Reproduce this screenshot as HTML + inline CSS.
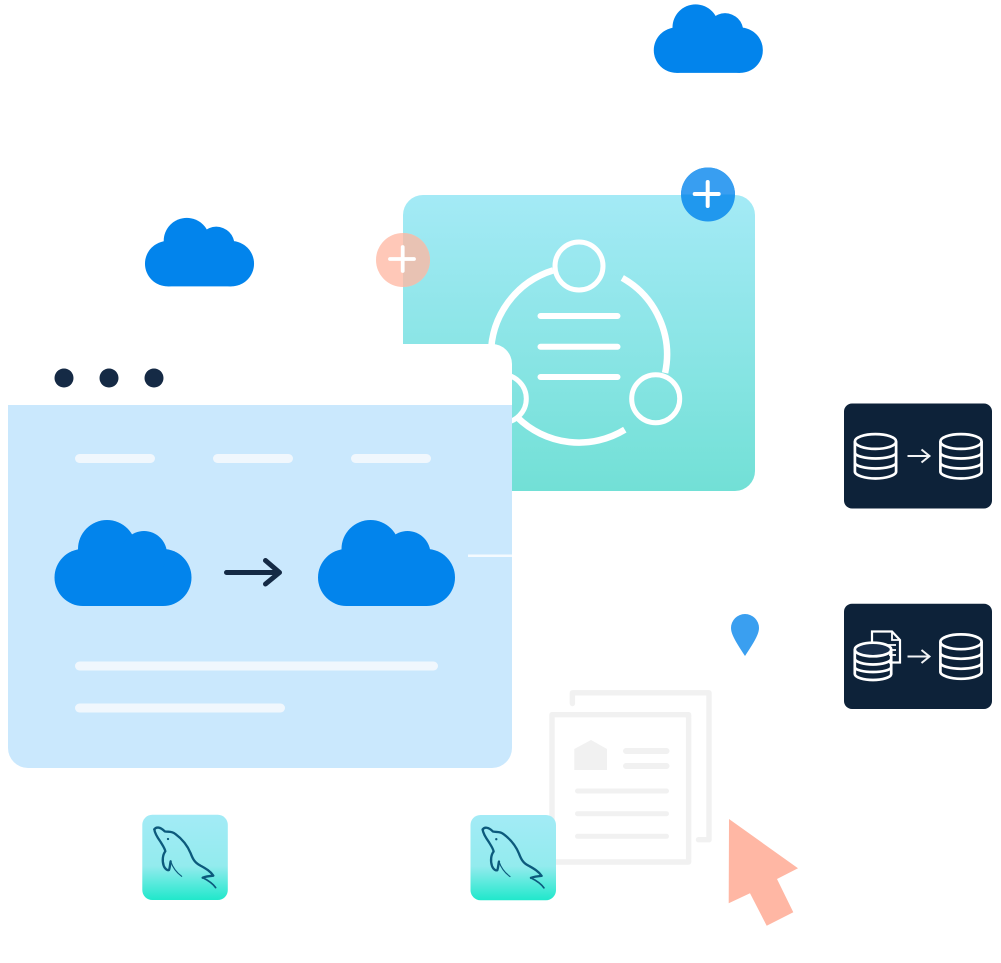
<!DOCTYPE html>
<html><head><meta charset="utf-8"><title>Diagram</title>
<style>html,body{margin:0;padding:0;background:#fff}svg{display:block}</style></head>
<body>
<svg width="1001" height="963" viewBox="0 0 1001 963" xmlns="http://www.w3.org/2000/svg">
<defs>
<linearGradient id="teal" x1="0" y1="0" x2="0" y2="1"><stop offset="0" stop-color="#a4eaf6"/><stop offset="1" stop-color="#72e0d6"/></linearGradient>
<linearGradient id="tile" x1="0" y1="0" x2="0" y2="1"><stop offset="0" stop-color="#a3ebf6"/><stop offset=".6" stop-color="#93ebee"/><stop offset="1" stop-color="#20e8cb"/></linearGradient>
<g id="cloud"><circle cx="83" cy="577.5" r="28.5"/><circle cx="163" cy="577.5" r="28.5"/><circle cx="107" cy="549" r="29"/><circle cx="144" cy="554" r="23"/><rect x="83" y="549" width="80" height="57"/></g>
<g id="db" fill="none" stroke="#fff" stroke-width="2.7"><ellipse cx="0" cy="8" rx="20.6" ry="7.4"/><path d="M-20.6 8V38C-20.6 42 -10 45 0 45S20.6 42 20.6 38V8M-20.6 19C-20.6 22.5 -10 25 0 25S20.6 22.5 20.6 19M-20.6 29C-20.6 32.5 -10 35 0 35S20.6 32.5 20.6 29"/></g>
<g id="dolphin" transform="scale(.3333)" fill="none" stroke="#0c5a7c" stroke-linecap="round" stroke-linejoin="round">
<path stroke-width="7" d="M73 88C78 80 90 80 104 94C114 97 124 92 136 102C155 116 172 136 182 160C188 176 194 188 210 196C224 204 240 212 250 227C238 228 226 230 218 233"/>
<path stroke-width="5" d="M218 233C232 240 248 250 257 263"/>
<path stroke-width="7" d="M73 88C74 98 82 112 92 126C98 136 105 146 106 154C98 164 96 182 101 197C105 208 113 212 117 210C120 202 120 192 122 184"/>
<path stroke-width="3.5" d="M122 184C128 202 140 218 155 229"/>
<circle cx="114" cy="117" r="3.5" fill="#0c5a7c" stroke="none"/>
</g>
</defs>

<g fill="#0284ec">
<use href="#cloud" transform="translate(610.4,-409.5) scale(.796 .796)"/>
<use href="#cloud" transform="translate(101.6,-196) scale(.796 .796)" />
</g>

<rect x="403" y="195" width="352" height="296" rx="20" fill="url(#teal)"/>

<circle cx="403" cy="260" r="27" fill="#ffc8b8"/>
<path d="M403 233A27 27 0 0 1 403 287Z" fill="#e8c2b3"/>
<path d="M390 259H414M402.7 247V271" stroke="#fff" stroke-width="3.8" stroke-linecap="round" fill="none"/>

<circle cx="708" cy="194.5" r="27" fill="#2098ee"/>
<path d="M681 194.5A27 27 0 0 1 735 194.5Z" fill="#389ef1"/>
<path d="M694.7 194H718.7M707.7 182V206" stroke="#fff" stroke-width="4" stroke-linecap="round" fill="none"/>

<g fill="none" stroke="#fff" stroke-width="5">
<circle cx="579" cy="266" r="24"/>
<circle cx="655.7" cy="398.7" r="24"/>
<circle cx="502.3" cy="398.7" r="24"/>
</g>
<g fill="none" stroke="#fff" stroke-width="6.5">
<path d="M553.1 270.4A88 88 0 0 0 491 354.5"/>
<path d="M622.3 277.9A88 88 0 0 1 665.1 372.9"/>
<path d="M624.8 429.7A88 88 0 0 1 517.4 417.4"/>
</g>
<path d="M540.5 316H617.5M540.5 346.7H617.5M540.5 377H617.5" stroke="#fff" stroke-width="6" stroke-linecap="round" fill="none"/>

<path d="M403 344H492A20 20 0 0 1 512 364V405H403Z" fill="#fff"/>
<rect x="0" y="344" width="403" height="61" fill="#fff"/>
<path d="M8 405H512V748A20 20 0 0 1 492 768H28A20 20 0 0 1 8 748Z" fill="#cae8fd"/>
<g fill="#152a45"><circle cx="64" cy="378" r="9.5"/><circle cx="109" cy="378" r="9.5"/><circle cx="154" cy="378" r="9.5"/></g>
<g fill="#f0f7fd">
<rect x="75" y="454" width="80" height="9" rx="4.5"/><rect x="213" y="454" width="80" height="9" rx="4.5"/><rect x="351" y="454" width="80" height="9" rx="4.5"/>
<rect x="75" y="661.5" width="363" height="9" rx="4.5"/><rect x="75" y="703.5" width="210" height="9" rx="4.5"/>
</g>
<rect x="468" y="554.5" width="44" height="2.5" fill="#f4fafe"/>
<g fill="#0284ec"><use href="#cloud"/><use href="#cloud" transform="translate(263.5,0)"/></g>
<path d="M226.5 572.5H279.5M265.5 560.5L279.5 572.5L265.5 584" fill="none" stroke="#152a45" stroke-width="5" stroke-linecap="round" stroke-linejoin="round"/>

<rect x="844" y="403.5" width="148" height="105" rx="8" fill="#0d2239"/>
<use href="#db" transform="translate(875.5,433.5)"/>
<use href="#db" transform="translate(961,433.5)"/>
<path d="M907.5 456H929.5M921.5 449.5L929.5 456L921.5 462.5" fill="none" stroke="#f2f4f6" stroke-width="2"/>

<rect x="844" y="603.7" width="148" height="105.3" rx="8" fill="#0d2239"/>
<path d="M872 643V631.5H892L900 640V662.5H889" fill="none" stroke="#fff" stroke-width="2.2"/>
<path d="M892 631.5V640H900M886 645H896M889 650H896M889 655H896" fill="none" stroke="#fff" stroke-width="1.8"/>
<ellipse cx="873" cy="649.5" rx="18.2" ry="6.8" fill="#182e4a" stroke="#fff" stroke-width="2.7"/>
<path d="M854.8 649.5V674C854.8 677.5 864 680 873 680S891.2 677.5 891.2 674V649.5M854.8 658.5C854.8 662 864 664.5 873 664.5S891.2 662 891.2 658.5M854.8 667C854.8 670 864 672 873 672S891.2 670 891.2 667" fill="none" stroke="#fff" stroke-width="2.7"/>
<use href="#db" transform="translate(961,633.8)"/>
<path d="M907.5 656.5H929.5M921.5 650L929.5 656.5L921.5 663" fill="none" stroke="#f2f4f6" stroke-width="2"/>

<path d="M731 628A14 14 0 0 1 759 628C759 636 750 648 745 656C740 648 731 636 731 628Z" fill="#3a9ff0"/>

<path d="M572.4 703.5V692.8H709V839.7H698.5" fill="none" stroke="#f1f1f1" stroke-width="5.4" stroke-linecap="round" stroke-linejoin="round"/>
<rect x="552" y="714.7" width="136.6" height="147.3" fill="#fff" stroke="#f1f1f1" stroke-width="5.4" stroke-linejoin="round"/>
<path d="M574.3 749L591 740L607 749V770H574.3Z" fill="#f1f1f1"/>
<path d="M626 751H666.5M626 766H666.5" stroke="#f1f1f1" stroke-width="6" stroke-linecap="round"/>
<path d="M577.5 791H666.5M577.5 813.7H666.5M577.5 836.3H666.5" stroke="#f1f1f1" stroke-width="5" stroke-linecap="round"/>

<path d="M729 819L798 868.3L777 879L793.3 912.3L766.7 925.7L750 893.3L728.7 903.3Z" fill="#ffb7a4"/>

<rect x="142.3" y="814.8" width="85.5" height="85.2" rx="10" fill="url(#tile)"/>
<use href="#dolphin" transform="translate(130,800)"/>
<rect x="470.5" y="815" width="85.5" height="85.2" rx="10" fill="url(#tile)"/>
<use href="#dolphin" transform="translate(458.3,800.2)"/>
</svg>
</body></html>
